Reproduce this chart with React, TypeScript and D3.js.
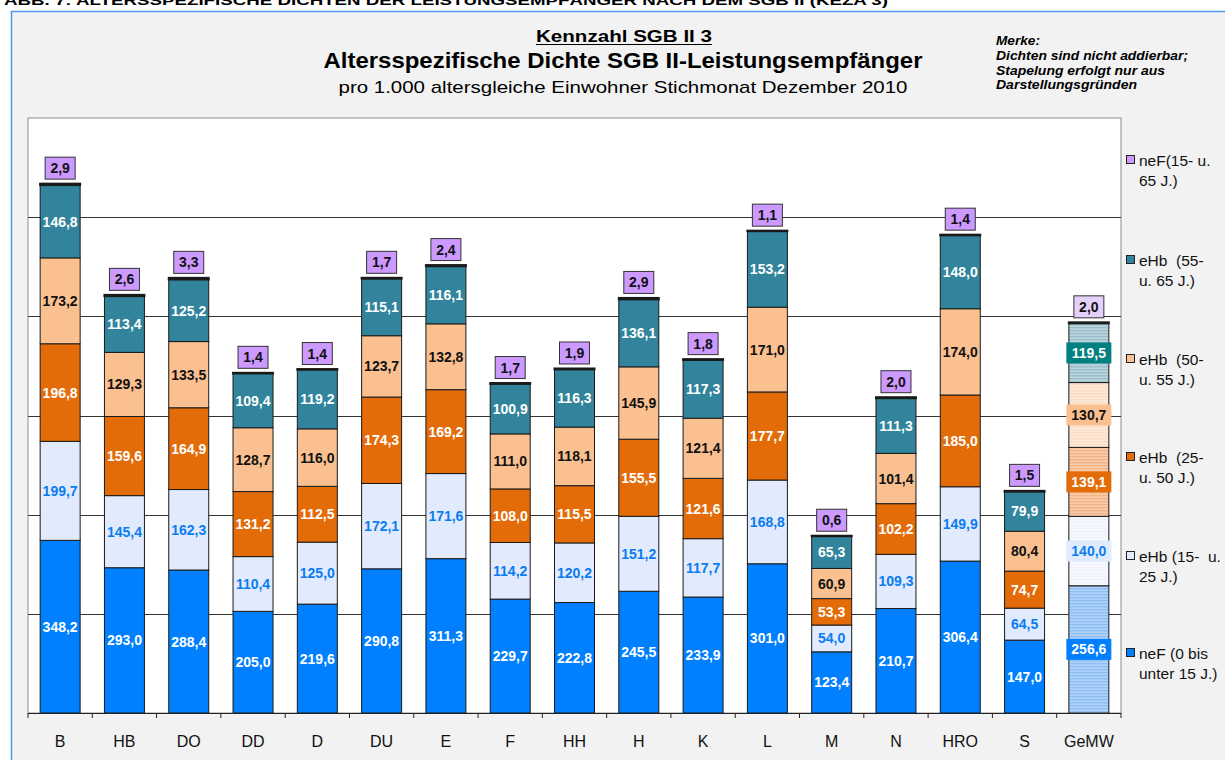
import React from "react";
import * as d3 from "d3";

const categories = ["B", "HB", "DO", "DD", "D", "DU", "E", "F", "HH", "H", "K", "L", "M", "N", "HRO", "S", "GeMW"];
const neF0_15 = [348.2, 293.0, 288.4, 205.0, 219.6, 290.8, 311.3, 229.7, 222.8, 245.5, 233.9, 301.0, 123.4, 210.7, 306.4, 147.0, 256.6];
const eHb15_25 = [199.7, 145.4, 162.3, 110.4, 125.0, 172.1, 171.6, 114.2, 120.2, 151.2, 117.7, 168.8, 54.0, 109.3, 149.9, 64.5, 140.0];
const eHb25_50 = [196.8, 159.6, 164.9, 131.2, 112.5, 174.3, 169.2, 108.0, 115.5, 155.5, 121.6, 177.7, 53.3, 102.2, 185.0, 74.7, 139.1];
const eHb50_55 = [173.2, 129.3, 133.5, 128.7, 116.0, 123.7, 132.8, 111.0, 118.1, 145.9, 121.4, 171.0, 60.9, 101.4, 174.0, 80.4, 130.7];
const eHb55_65 = [146.8, 113.4, 125.2, 109.4, 119.2, 115.1, 116.1, 100.9, 116.3, 136.1, 117.3, 153.2, 65.3, 111.3, 148.0, 79.9, 119.5];
const neF15_65 = [2.9, 2.6, 3.3, 1.4, 1.4, 1.7, 2.4, 1.7, 1.9, 2.9, 1.8, 1.1, 0.6, 2.0, 1.4, 1.5, 2.0];
const yTicks = [0, 200, 400, 600, 800, 1000, 1200];

const seriesNames = ["neF (0 bis|unter 15 J.)", "eHb (15-  u.|25 J.)", "eHb  (25-|u. 50 J.)", "eHb  (50-|u. 55 J.)", "eHb  (55-|u. 65 J.)", "neF(15- u.|65 J.)"];
const noteLines = ["Merke:", "Dichten sind nicht addierbar;", "Stapelung erfolgt nur aus", "Darstellungsgründen"];
const noteWidths = [44, 192, 169, 141];

const fills = ["#0080FF", "#E1EBFD", "#E36C09", "#FAC090", "#31849B", "#CC99FF"];
const labelColors = ["#ffffff", "#0A7CF0", "#ffffff", "#111111", "#ffffff", "#111111"];
const stripeA = ["#8DBEF4", "#EDF2FD", "#F3B384", "#FCDDC4", "#98BECA", "#E4D0FA"];
const stripeB = ["#B0D2F8", "#F7F9FF", "#F8CDAE", "#FDEADB", "#BCD5DD", "#E4D0FA"];
const gemwBox = ["#0080FF", "#E0ECFD", "#E36C09", "#FAC090", "#008080", "#E4D0FA"];

const fmt = (v: number) => v.toFixed(1).replace(".", ",");

export default function App() {
  const W = 1225, H = 760;
  const x0 = 28, x1 = 1121, yTop = 118, yBot = 713;
  const series = [neF0_15, eHb15_25, eHb25_50, eHb50_55, eHb55_65, neF15_65];
  const x = d3.scaleBand<string>().domain(categories).range([x0, x1]).paddingInner(0.378).paddingOuter(0.189);
  const y = d3.scaleLinear().domain([0, 1200]).range([yBot, yTop]);
  const step = x.step();
  const bw = x.bandwidth();

  const stackData = categories.map((c, i) => {
    const o: any = { cat: c };
    series.forEach((s, k) => (o["s" + k] = s[i]));
    return o;
  });
  const stack = d3.stack<any>().keys(series.map((_, k) => "s" + k))(stackData);
  const font = "Arial, 'Liberation Sans', Helvetica, sans-serif";
  const legendY = [653, 556, 457, 359, 260, 160];
  const gIdx = categories.length - 1;

  return (
    <div style={{ position: "absolute", left: 0, top: 0 }}>
      <svg width={W} height={H} style={{ display: "block", fontFamily: font }}>
        <defs>
          {series.map((_, k) => (
            <pattern key={k} id={"hatch" + k} width={4} height={3} patternUnits="userSpaceOnUse">
              <rect width={4} height={3} fill={stripeB[k]} />
              <rect width={4} height={1.4} fill={stripeA[k]} />
            </pattern>
          ))}
        </defs>
        <rect width={W} height={H} fill="#ffffff" />
        <text x={4} y={5} fontSize={13} fontWeight="bold" fill="#000" textLength={884} lengthAdjust="spacingAndGlyphs">
          ABB. 7:      ALTERSSPEZIFISCHE DICHTEN DER LEISTUNGSEMPFÄNGER NACH DEM SGB II (KEZA 3)
        </text>
        <rect x={11.5} y={11.5} width={1240} height={800} fill="#f2f2f2" stroke="#4A98EE" strokeWidth={1.5} />

        {/* titles */}
        <text x={624} y={42} fontSize={17} fontWeight="bold" textAnchor="middle" fill="#000" textLength={176} lengthAdjust="spacingAndGlyphs">
          Kennzahl SGB II 3
        </text>
        <line x1={536} x2={712} y1={44.5} y2={44.5} stroke="#000" strokeWidth={1.2} />
        <text x={623} y={68} fontSize={21.5} fontWeight="bold" textAnchor="middle" fill="#000" textLength={599} lengthAdjust="spacingAndGlyphs">
          Altersspezifische Dichte SGB II-Leistungsempfänger
        </text>
        <text x={623} y={93} fontSize={17} textAnchor="middle" fill="#000" textLength={569} lengthAdjust="spacingAndGlyphs">
          pro 1.000 altersgleiche Einwohner Stichmonat Dezember 2010
        </text>
        {noteLines.map((t, i) => (
          <text key={i} x={996} y={45 + i * 14.8} fontSize={12.5} fontWeight="bold" fontStyle="italic" fill="#000" textLength={noteWidths[i]} lengthAdjust="spacingAndGlyphs">
            {t}
          </text>
        ))}

        {/* plot area */}
        <rect x={x0} y={yTop} width={x1 - x0} height={yBot - yTop} fill="#ffffff" stroke="#8c8c8c" strokeWidth={1} />
        {yTicks.slice(1, -1).map((t) => (
          <line key={t} x1={x0} x2={x1} y1={Math.round(y(t)) + 0.5} y2={Math.round(y(t)) + 0.5} stroke="#333" strokeWidth={1} />
        ))}

        {/* bars */}
        {stack.map((layer, k) =>
          layer.map((d, i) => {
            const isG = i === gIdx;
            const bx = x(categories[i])!;
            const yt = y(d[1]);
            const yb = y(d[0]);
            return (
              <rect
                key={k + "-" + i}
                x={bx}
                y={yt}
                width={bw}
                height={Math.max(yb - yt, 0.5)}
                fill={isG ? `url(#hatch${k})` : fills[k]}
                stroke="#1a1a1a"
                strokeWidth={k === 5 ? 2 : 1}
              />
            );
          })
        )}

        {/* segment labels */}
        {stack.slice(0, 5).map((layer, k) =>
          layer.map((d, i) => {
            const cx = x(categories[i])! + bw / 2;
            const cy = (y(d[0]) + y(d[1])) / 2;
            const isG = i === gIdx;
            return (
              <g key={"l" + k + "-" + i}>
                {isG && <rect x={cx - 22.5} y={cy - 10.5} width={45} height={21} fill={gemwBox[k]} />}
                <text x={cx} y={cy} dy="0.36em" textAnchor="middle" fontSize={14} fontWeight="bold" fill={labelColors[k]}>
                  {fmt(series[k][i])}
                </text>
              </g>
            );
          })
        )}

        {/* top labels */}
        {stack[5].map((d, i) => {
          const cx = x(categories[i])! + bw / 2;
          const top = y(d[1]);
          const isG = i === gIdx;
          return (
            <g key={"t" + i}>
              <rect x={cx - 15} y={top - 26.5} width={30} height={22} fill={isG ? gemwBox[5] : fills[5]} stroke="#333" strokeWidth={1} />
              <text x={cx} y={top - 15.5} dy="0.36em" textAnchor="middle" fontSize={14} fontWeight="bold" fill="#111">
                {fmt(neF15_65[i])}
              </text>
            </g>
          );
        })}

        {/* x axis */}
        <line x1={x0} x2={x1} y1={yBot + 0.5} y2={yBot + 0.5} stroke="#222" strokeWidth={1} />
        {d3.range(categories.length + 1).map((j) => (
          <line key={"tk" + j} x1={x0 + step * j} x2={x0 + step * j} y1={yBot} y2={yBot + 5} stroke="#222" strokeWidth={1} />
        ))}
        {categories.map((c) => (
          <text key={"c" + c} x={x(c)! + bw / 2} y={747} textAnchor="middle" fontSize={16} fill="#111">
            {c}
          </text>
        ))}

        {/* legend */}
        {seriesNames.map((n, k) => {
          const [a, b] = n.split("|");
          const ly = legendY[k];
          return (
            <g key={"lg" + k}>
              <rect x={1126.5} y={ly - 4.5} width={8} height={8} fill={fills[k]} stroke="#222" strokeWidth={1} />
              <text x={1139} y={ly} dy="0.36em" fontSize={15.5} fill="#111" style={{ whiteSpace: "pre" }}>
                {a}
              </text>
              <text x={1139} y={ly + 20} dy="0.36em" fontSize={15.5} fill="#111" style={{ whiteSpace: "pre" }}>
                {b}
              </text>
            </g>
          );
        })}
      </svg>
    </div>
  );
}
